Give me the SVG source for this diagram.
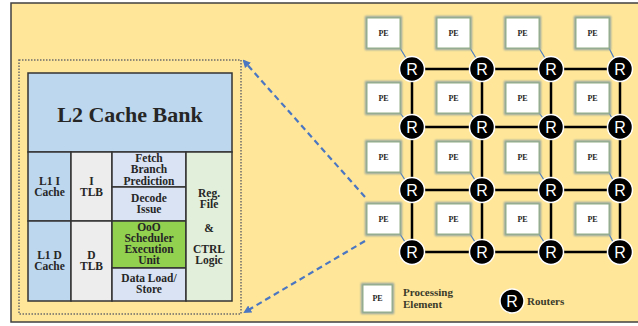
<svg xmlns="http://www.w3.org/2000/svg" width="638" height="326" viewBox="0 0 638 326">
  <style>
    .cell { stroke: #333333; stroke-width: 1.5; }
    .lbl { font-family: "Liberation Serif", "DejaVu Serif", serif; font-weight: bold; font-size: 11.5px; fill: #262626; text-anchor: middle; }
    .pe-box { fill: #ffffff; stroke: #93ae86; stroke-width: 1; }
    .pe-halo { fill: none; stroke: #8da3a0; stroke-width: 4; filter: url(#soft); }
    .pe-txt { font-family: "Liberation Serif", "DejaVu Serif", serif; font-weight: bold; font-size: 8px; fill: #262626; text-anchor: middle; }
    .rt { fill: #000000; stroke: #ffffff; stroke-width: 1.5; }
    .rt-txt { font-family: "Liberation Sans", "DejaVu Sans", sans-serif; font-size: 16px; fill: #ffffff; text-anchor: middle; }
    .mesh { stroke: #000000; stroke-width: 2.5; }
    .tap { stroke: #4f7fc0; stroke-width: 1.2; }
    .zoom { stroke: #4a76c2; stroke-width: 2.2; stroke-dasharray: 6 4; fill: none; marker-end: url(#arr); }
    .legend { font-family: "Liberation Serif", "DejaVu Serif", serif; font-weight: bold; font-size: 11px; fill: #3a3a2a; }
  </style>
  <defs>
    <filter id="soft" x="-30%" y="-30%" width="160%" height="160%">
      <feGaussianBlur stdDeviation="1.2"/>
    </filter>
    <marker id="arr" markerWidth="8" markerHeight="8" refX="6" refY="4" orient="auto" markerUnits="userSpaceOnUse">
      <path d="M0,0 L8,4 L0,8 Z" fill="#4a76c2"/>
    </marker>
  </defs>

  <!-- backdrop panel -->
  <rect x="11" y="3" width="640" height="319" fill="#ffe699" stroke="#404040" stroke-width="1.5"/>

  <!-- core floorplan: dotted frame -->
  <rect x="19" y="60" width="222" height="254" fill="none" stroke="#6b6b6b" stroke-width="1.5" stroke-dasharray="1.5 1.5"/>

  <g id="core">
    <rect id="l2" class="cell" x="28" y="73" width="204" height="79" fill="#bdd7ee"/>
    <text class="lbl" x="130" y="122" style="font-size:22px">L2 Cache Bank</text>

    <g id="l1i">
      <rect class="cell" x="28" y="152" width="43" height="69" fill="#bdd7ee"/>
      <text class="lbl" x="49.5" y="185">L1 I</text>
      <text class="lbl" x="49.5" y="196">Cache</text>
    </g>
    <g id="l1d">
      <rect class="cell" x="28" y="221" width="43" height="80" fill="#bdd7ee"/>
      <text class="lbl" x="49.5" y="259">L1 D</text>
      <text class="lbl" x="49.5" y="270">Cache</text>
    </g>
    <g id="itlb">
      <rect class="cell" x="71" y="152" width="41" height="69" fill="#ededed"/>
      <text class="lbl" x="91.5" y="185">I</text>
      <text class="lbl" x="91.5" y="196">TLB</text>
    </g>
    <g id="dtlb">
      <rect class="cell" x="71" y="221" width="41" height="80" fill="#ededed"/>
      <text class="lbl" x="91.5" y="259">D</text>
      <text class="lbl" x="91.5" y="270">TLB</text>
    </g>
    <g id="fetch">
      <rect class="cell" x="112" y="152" width="74" height="35" fill="#dae3f3"/>
      <text class="lbl" x="149" y="162">Fetch</text>
      <text class="lbl" x="149" y="173">Branch</text>
      <text class="lbl" x="149" y="184.5">Prediction</text>
    </g>
    <g id="decode">
      <rect class="cell" x="112" y="187" width="74" height="34" fill="#dae3f3"/>
      <text class="lbl" x="149" y="202">Decode</text>
      <text class="lbl" x="149" y="213">Issue</text>
    </g>
    <g id="ooo">
      <rect class="cell" x="112" y="221" width="74" height="47" fill="#92d050"/>
      <text class="lbl" x="149" y="231">OoO</text>
      <text class="lbl" x="149" y="242">Scheduler</text>
      <text class="lbl" x="149" y="253">Execution</text>
      <text class="lbl" x="149" y="264">Unit</text>
    </g>
    <g id="lsu">
      <rect class="cell" x="112" y="268" width="74" height="33" fill="#dae3f3"/>
      <text class="lbl" x="149" y="282">Data Load/</text>
      <text class="lbl" x="149" y="293">Store</text>
    </g>
    <g id="regfile">
      <rect class="cell" x="186" y="152" width="46" height="149" fill="#e2efda"/>
      <text class="lbl" x="209" y="197">Reg.</text>
      <text class="lbl" x="209" y="208">File</text>
      <text class="lbl" x="209" y="232">&amp;</text>
      <text class="lbl" x="209" y="253">CTRL</text>
      <text class="lbl" x="209" y="264">Logic</text>
    </g>
  </g>

  <!-- connectors: mesh links, PE-to-router taps, zoom-out arrows -->
  <g id="connectors">
    <line class="mesh" x1="412" y1="69" x2="620" y2="69"/>
    <line class="mesh" x1="412" y1="127" x2="620" y2="127"/>
    <line class="mesh" x1="412" y1="190" x2="620" y2="190"/>
    <line class="mesh" x1="412" y1="252" x2="620" y2="252"/>
    <line class="mesh" x1="412" y1="69" x2="412" y2="252"/>
    <line class="mesh" x1="482" y1="69" x2="482" y2="252"/>
    <line class="mesh" x1="551" y1="69" x2="551" y2="252"/>
    <line class="mesh" x1="620" y1="69" x2="620" y2="252"/>

    <line class="tap" x1="400" y1="48" x2="406" y2="58"/>
    <line class="tap" x1="470" y1="48" x2="476" y2="58"/>
    <line class="tap" x1="539" y1="48" x2="545" y2="58"/>
    <line class="tap" x1="609" y1="48" x2="614" y2="58"/>
    <line class="tap" x1="400" y1="113" x2="404" y2="118"/>
    <line class="tap" x1="470" y1="113" x2="474" y2="118"/>
    <line class="tap" x1="539" y1="113" x2="543" y2="118"/>
    <line class="tap" x1="609" y1="113" x2="612" y2="118"/>
    <line class="tap" x1="400" y1="172" x2="405" y2="180"/>
    <line class="tap" x1="470" y1="172" x2="475" y2="180"/>
    <line class="tap" x1="539" y1="172" x2="544" y2="180"/>
    <line class="tap" x1="609" y1="172" x2="613" y2="180"/>
    <line class="tap" x1="400" y1="234" x2="405" y2="242"/>
    <line class="tap" x1="470" y1="234" x2="475" y2="242"/>
    <line class="tap" x1="539" y1="234" x2="544" y2="242"/>
    <line class="tap" x1="609" y1="234" x2="613" y2="242"/>

    <line class="zoom" x1="365" y1="197" x2="244" y2="61"/>
    <line class="zoom" x1="365" y1="241" x2="245" y2="312"/>
  </g>

  <!-- processing elements -->
  <g id="pe-r1c1"><rect class="pe-halo" x="367" y="18" width="33" height="30"/><rect class="pe-box" x="367" y="18" width="33" height="30"/><text class="pe-txt" x="383.5" y="36">PE</text></g>
  <g id="pe-r1c2"><rect class="pe-halo" x="437" y="18" width="33" height="30"/><rect class="pe-box" x="437" y="18" width="33" height="30"/><text class="pe-txt" x="453.5" y="36">PE</text></g>
  <g id="pe-r1c3"><rect class="pe-halo" x="506" y="18" width="33" height="30"/><rect class="pe-box" x="506" y="18" width="33" height="30"/><text class="pe-txt" x="522.5" y="36">PE</text></g>
  <g id="pe-r1c4"><rect class="pe-halo" x="576" y="18" width="33" height="30"/><rect class="pe-box" x="576" y="18" width="33" height="30"/><text class="pe-txt" x="592.5" y="36">PE</text></g>

  <g id="pe-r2c1"><rect class="pe-halo" x="367" y="83" width="33" height="30"/><rect class="pe-box" x="367" y="83" width="33" height="30"/><text class="pe-txt" x="383.5" y="101">PE</text></g>
  <g id="pe-r2c2"><rect class="pe-halo" x="437" y="83" width="33" height="30"/><rect class="pe-box" x="437" y="83" width="33" height="30"/><text class="pe-txt" x="453.5" y="101">PE</text></g>
  <g id="pe-r2c3"><rect class="pe-halo" x="506" y="83" width="33" height="30"/><rect class="pe-box" x="506" y="83" width="33" height="30"/><text class="pe-txt" x="522.5" y="101">PE</text></g>
  <g id="pe-r2c4"><rect class="pe-halo" x="576" y="83" width="33" height="30"/><rect class="pe-box" x="576" y="83" width="33" height="30"/><text class="pe-txt" x="592.5" y="101">PE</text></g>

  <g id="pe-r3c1"><rect class="pe-halo" x="367" y="142" width="33" height="30"/><rect class="pe-box" x="367" y="142" width="33" height="30"/><text class="pe-txt" x="383.5" y="160">PE</text></g>
  <g id="pe-r3c2"><rect class="pe-halo" x="437" y="142" width="33" height="30"/><rect class="pe-box" x="437" y="142" width="33" height="30"/><text class="pe-txt" x="453.5" y="160">PE</text></g>
  <g id="pe-r3c3"><rect class="pe-halo" x="506" y="142" width="33" height="30"/><rect class="pe-box" x="506" y="142" width="33" height="30"/><text class="pe-txt" x="522.5" y="160">PE</text></g>
  <g id="pe-r3c4"><rect class="pe-halo" x="576" y="142" width="33" height="30"/><rect class="pe-box" x="576" y="142" width="33" height="30"/><text class="pe-txt" x="592.5" y="160">PE</text></g>

  <g id="pe-r4c1"><rect class="pe-halo" x="367" y="204" width="33" height="30"/><rect class="pe-box" x="367" y="204" width="33" height="30"/><text class="pe-txt" x="383.5" y="222">PE</text></g>
  <g id="pe-r4c2"><rect class="pe-halo" x="437" y="204" width="33" height="30"/><rect class="pe-box" x="437" y="204" width="33" height="30"/><text class="pe-txt" x="453.5" y="222">PE</text></g>
  <g id="pe-r4c3"><rect class="pe-halo" x="506" y="204" width="33" height="30"/><rect class="pe-box" x="506" y="204" width="33" height="30"/><text class="pe-txt" x="522.5" y="222">PE</text></g>
  <g id="pe-r4c4"><rect class="pe-halo" x="576" y="204" width="33" height="30"/><rect class="pe-box" x="576" y="204" width="33" height="30"/><text class="pe-txt" x="592.5" y="222">PE</text></g>

  <!-- routers -->
  <g id="r-r1c1"><circle class="rt" cx="412" cy="69" r="12.5"/><text class="rt-txt" x="412" y="75">R</text></g>
  <g id="r-r1c2"><circle class="rt" cx="482" cy="69" r="12.5"/><text class="rt-txt" x="482" y="75">R</text></g>
  <g id="r-r1c3"><circle class="rt" cx="551" cy="69" r="12.5"/><text class="rt-txt" x="551" y="75">R</text></g>
  <g id="r-r1c4"><circle class="rt" cx="620" cy="69" r="12.5"/><text class="rt-txt" x="620" y="75">R</text></g>
  <g id="r-r2c1"><circle class="rt" cx="412" cy="127" r="12.5"/><text class="rt-txt" x="412" y="133">R</text></g>
  <g id="r-r2c2"><circle class="rt" cx="482" cy="127" r="12.5"/><text class="rt-txt" x="482" y="133">R</text></g>
  <g id="r-r2c3"><circle class="rt" cx="551" cy="127" r="12.5"/><text class="rt-txt" x="551" y="133">R</text></g>
  <g id="r-r2c4"><circle class="rt" cx="620" cy="127" r="12.5"/><text class="rt-txt" x="620" y="133">R</text></g>
  <g id="r-r3c1"><circle class="rt" cx="412" cy="190" r="12.5"/><text class="rt-txt" x="412" y="196">R</text></g>
  <g id="r-r3c2"><circle class="rt" cx="482" cy="190" r="12.5"/><text class="rt-txt" x="482" y="196">R</text></g>
  <g id="r-r3c3"><circle class="rt" cx="551" cy="190" r="12.5"/><text class="rt-txt" x="551" y="196">R</text></g>
  <g id="r-r3c4"><circle class="rt" cx="620" cy="190" r="12.5"/><text class="rt-txt" x="620" y="196">R</text></g>
  <g id="r-r4c1"><circle class="rt" cx="412" cy="252" r="12.5"/><text class="rt-txt" x="412" y="258">R</text></g>
  <g id="r-r4c2"><circle class="rt" cx="482" cy="252" r="12.5"/><text class="rt-txt" x="482" y="258">R</text></g>
  <g id="r-r4c3"><circle class="rt" cx="551" cy="252" r="12.5"/><text class="rt-txt" x="551" y="258">R</text></g>
  <g id="r-r4c4"><circle class="rt" cx="620" cy="252" r="12.5"/><text class="rt-txt" x="620" y="258">R</text></g>

  <!-- legend -->
  <g id="legend-pe">
    <rect class="pe-halo" x="363" y="285" width="29" height="27"/>
    <rect class="pe-box" x="363" y="285" width="29" height="27"/>
    <text class="pe-txt" x="377.5" y="301">PE</text>
    <text class="legend" x="403" y="296">Processing</text>
    <text class="legend" x="403" y="308">Element</text>
  </g>
  <g id="legend-router">
    <circle class="rt" cx="512" cy="301" r="12"/>
    <text class="rt-txt" x="512" y="307">R</text>
    <text class="legend" x="527" y="305">Routers</text>
  </g>
</svg>
